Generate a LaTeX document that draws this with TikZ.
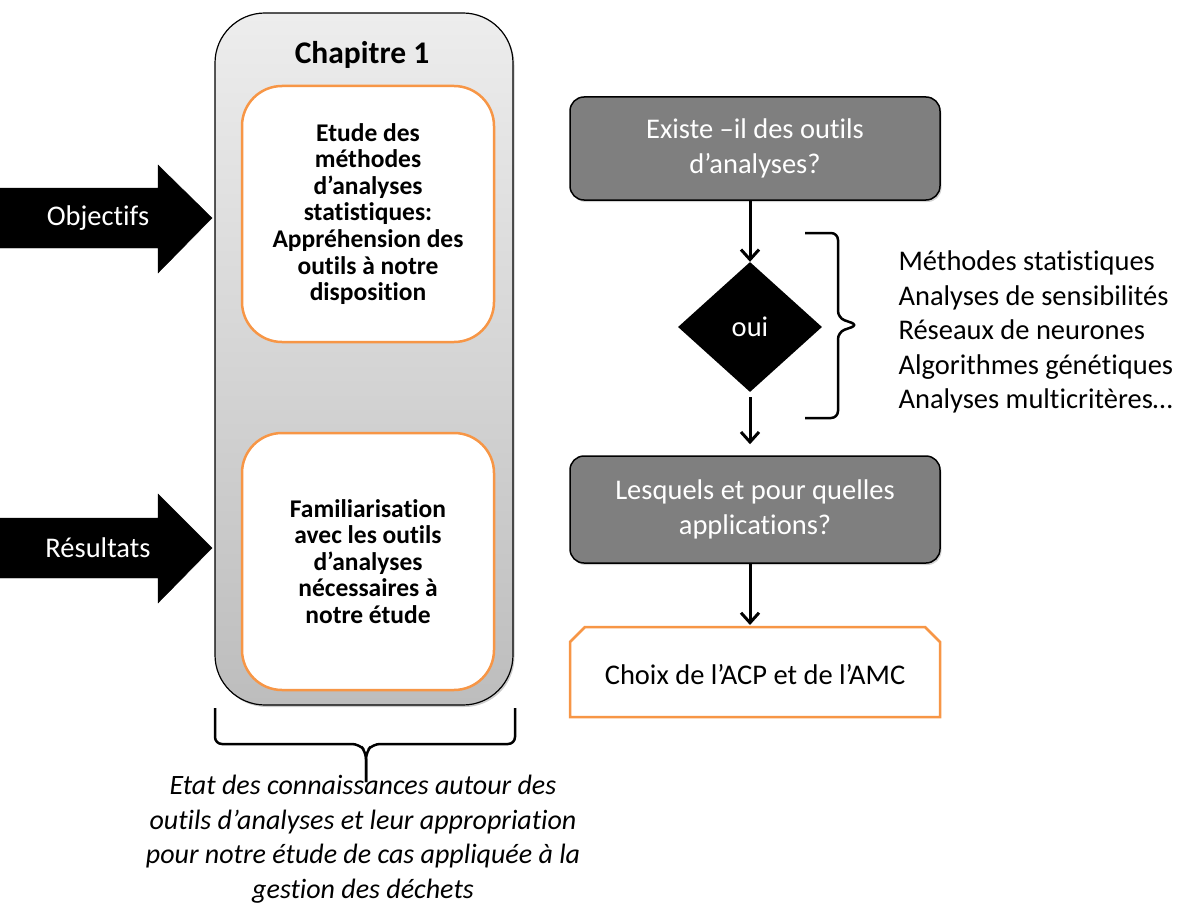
\documentclass[tikz,border=0pt]{standalone}
\usepackage{fontspec}
\setmainfont{Carlito}[Ligatures=NoCommon]
\usetikzlibrary{arrows.meta,shapes.geometric,shadows,calc}
\definecolor{myorange}{HTML}{F79646}
\definecolor{boxgray}{HTML}{7F7F7F}
\definecolor{chaptop}{HTML}{EDEDED}
\definecolor{chapbot}{HTML}{BDBDBD}
\begin{document}
\begin{tikzpicture}[x=1pt,y=-1pt,
  chapbox/.style={draw=black,line width=1.2pt,rounded corners=50pt,top color=chaptop,bottom color=chapbot,
    minimum width=298pt,minimum height=692pt,inner sep=0pt,
    drop shadow={shadow xshift=1.5pt,shadow yshift=-2pt,opacity=0.4}},
  innerbox/.style={draw=myorange,line width=2.5pt,fill=white,rounded corners=40pt,
    minimum width=252pt,inner sep=0pt,align=center,font=\bfseries\fontsize{25.5}{26.6}\selectfont},
  graybox/.style={draw=black,line width=1.5pt,fill=boxgray,rounded corners=14pt,
    minimum width=370pt,inner sep=0pt,align=center,text=white,font=\fontsize{28.5}{35}\selectfont,
    drop shadow={shadow xshift=1.5pt,shadow yshift=-2pt,opacity=0.35}},
  bigarrow/.style={fill=black},
  arrowlabel/.style={text=white,font=\fontsize{28.5}{32}\selectfont},
  flowarrow/.style={line width=3pt,-{Straight Barb[length=10pt,width=18pt,line width=3pt]}},
  bracestyle/.style={line width=2.5pt,rounded corners=7pt}
]
\useasboundingbox (0,0) rectangle (1182,904);

% Chapter container
\node[chapbox] (chap) at (364,359) {};
\node[font=\bfseries\fontsize{31.5}{34}\selectfont] (chaptitle) at (362,55) {Chapitre 1};
\node[innerbox,minimum height=256pt] (etude) at (368,214)
  {Etude des\\méthodes\\d’analyses\\statistiques:\\Appréhension des\\outils à notre\\disposition};
\node[innerbox,minimum height=257pt] (famil) at (368,561.5)
  {Familiarisation\\avec les outils\\d’analyses\\nécessaires à\\notre étude};

% Left big arrows
\draw[bigarrow] (0,188) -- (158,188) -- (158,165) -- (212,218) -- (158,273) -- (158,248) -- (0,248) -- cycle;
\node[arrowlabel] (obj) at (98,218) {Objectifs};
\draw[bigarrow] (0,518) -- (158,518) -- (158,494) -- (212,548) -- (158,603) -- (158,578) -- (0,578) -- cycle;
\node[arrowlabel] (res) at (98,548) {Résultats};

% Right flow
\node[graybox,minimum height=103pt] (q1) at (755,148.5) {Existe –il des outils\\d’analyses?};
\node[diamond,fill=black,minimum width=144pt,minimum height=130pt,inner sep=0pt,
  text=white,font=\fontsize{28.5}{32}\selectfont] (dia) at (750,327) {oui};
\node[graybox,minimum height=107pt] (q2) at (755,509.5) {Lesquels et pour quelles\\applications?};
\draw[myorange,line width=2.5pt,fill=white] (570,717) -- (570,642) -- (585,627) -- (925,627) -- (940,642) -- (940,717) -- cycle;
\node[font=\fontsize{28.5}{32}\selectfont] (choixtext) at (755,675) {Choix de l’ACP et de l’AMC};
\coordinate (choixtop) at (755,627);

\draw[flowarrow] (dia.north |- q1.south) -- (dia.north);
\draw[flowarrow,shorten <=5pt,shorten >=11pt] (dia.south) -- (dia.south |- q2.north);
\draw[flowarrow,shorten >=2pt] (dia.south |- q2.south) -- (dia.south |- choixtop);

% Right brace and list
\draw[bracestyle] (805,233) -- (838,233) -- (838,318) -- (858,325) -- (838,332) -- (838,418) -- (805,418);
\node[anchor=west,align=left,font=\fontsize{28.5}{34.5}\selectfont] (list) at (895,332)
  {Méthodes statistiques\\Analyses de sensibilités\\Réseaux de neurones\\Algorithmes génétiques\\Analyses multicritères…};

% Bottom brace and text
\draw[bracestyle] (215,708) -- (215,744) -- (359,744) -- (366,752) -- (366,782);
\draw[bracestyle] (366,782) -- (366,752) -- (373,744) -- (515,744) -- (515,708);
\node[align=center,font=\itshape\fontsize{28}{34.5}\selectfont] (etat) at (363,839)
  {Etat des connaissances autour des\\outils d’analyses et leur appropriation\\pour notre étude de cas appliquée à la\\gestion des déchets};
\end{tikzpicture}
\end{document}
